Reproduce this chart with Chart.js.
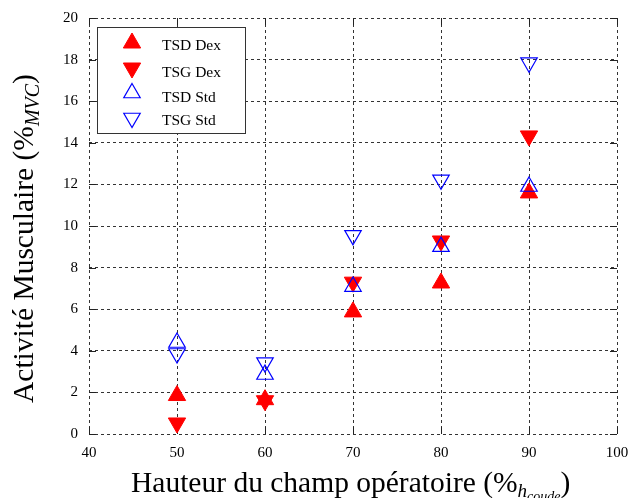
<!DOCTYPE html>
<html>
<head>
<meta charset="utf-8">
<script src="https://cdn.jsdelivr.net/npm/chart.js@4.4.1/dist/chart.umd.min.js"></script>
<style>
  html, body { margin: 0; padding: 0; background: #fff; }
  canvas { display: block; }
</style>
</head>
<body>
<canvas id="chart" width="628" height="498"></canvas>
<script>
// hauteur du champ opératoire (% h coude)
const hauteurs = [50, 60, 70, 80, 90];
// activité musculaire (% MVC)
const tsdDex = [1.85, 1.65, 5.87, 7.26, 11.59];
const tsgDex = [0.53, 1.60, 7.30, 9.28, 14.33];
const tsdStd = [4.40, 2.86, 7.09, 9.01, 11.90];
const tsgStd = [3.87, 3.43, 9.55, 12.22, 17.85];

const xTicks = [40, 50, 60, 70, 80, 90, 100];
const yTicks = [0, 2, 4, 6, 8, 10, 12, 14, 16, 18, 20];

const RED = '#ff0000';
const BLUE = '#0000ff';
const SERIF = '"Liberation Serif", "DejaVu Serif", serif';

const points = vals => hauteurs.map((h, i) => ({ x: h, y: vals[i] }));

const series = [
  { label: 'TSD Dex', data: tsdDex, filled: true,  down: false, order: 4 },
  { label: 'TSG Dex', data: tsgDex, filled: true,  down: true,  order: 3 },
  { label: 'TSD Std', data: tsdStd, filled: false, down: false, order: 2 },
  { label: 'TSG Std', data: tsgStd, filled: false, down: true,  order: 1 }
];

// triangle marker, same geometry as Chart.js 'triangle'
function triangle(ctx, x, y, r, down, filled) {
  let rad = down ? Math.PI : 0;
  ctx.beginPath();
  for (let k = 0; k < 3; k++) {
    const px = x + Math.sin(rad) * r;
    const py = y - Math.cos(rad) * r;
    if (k === 0) ctx.moveTo(px, py); else ctx.lineTo(px, py);
    rad += 2 * Math.PI / 3;
  }
  ctx.closePath();
  if (filled) {
    ctx.fillStyle = RED;
    ctx.fill();
    ctx.strokeStyle = RED;
    ctx.lineWidth = 1;
    ctx.stroke();
  } else {
    ctx.strokeStyle = BLUE;
    ctx.lineWidth = 1.2;
    ctx.stroke();
  }
}

// text made of pieces with subscript offsets, drawn from x0
function richText(ctx, parts, x0, baseY) {
  let x = x0;
  ctx.fillStyle = '#000';
  ctx.textAlign = 'left';
  ctx.textBaseline = 'alphabetic';
  parts.forEach(p => {
    ctx.font = (p.italic ? 'italic ' : '') + p.size + 'px ' + SERIF;
    ctx.fillText(p.t, x, baseY + (p.dy || 0));
    x += ctx.measureText(p.t).width;
  });
}

const decorPlugin = {
  id: 'decor',
  beforeDatasetsDraw(chart) {
    const { ctx, chartArea: a, scales } = chart;
    ctx.save();
    ctx.strokeStyle = '#222';
    ctx.lineWidth = 1;
    ctx.beginPath();
    xTicks.forEach(v => {
      const px = Math.round(scales.x.getPixelForValue(v)) + 0.5;
      ctx.moveTo(px, a.bottom); ctx.lineTo(px, a.bottom - 7);
      ctx.moveTo(px, a.top); ctx.lineTo(px, a.top + 7);
    });
    yTicks.forEach(v => {
      const py = Math.round(scales.y.getPixelForValue(v)) + 0.5;
      ctx.moveTo(a.left, py); ctx.lineTo(a.left + 7, py);
      ctx.moveTo(a.right, py); ctx.lineTo(a.right - 7, py);
    });
    ctx.stroke();
    ctx.restore();
  },
  afterDraw(chart) {
    const { ctx } = chart;
    ctx.save();

    // légende
    ctx.fillStyle = '#fff';
    ctx.fillRect(97.5, 27.5, 148, 106);
    ctx.strokeStyle = '#333';
    ctx.lineWidth = 1;
    ctx.strokeRect(97.5, 27.5, 148, 106);
    const markY = [43, 68, 93, 118];
    const textY = [50, 77, 102, 125];
    series.forEach((s, i) => {
      triangle(ctx, 132, markY[i], s.filled ? 10 : 9.5, s.down, s.filled);
      ctx.fillStyle = '#000';
      ctx.textAlign = 'left';
      ctx.textBaseline = 'alphabetic';
      ctx.font = '15.5px ' + SERIF;
      ctx.fillText(s.label, 162, textY[i]);
    });

    // titre de l'axe x
    richText(ctx, [
      { t: 'Hauteur du champ opératoire (%', size: 29.5 },
      { t: 'h', size: 19, italic: true, dy: 5 },
      { t: 'coude', size: 14, italic: true, dy: 9 },
      { t: ')', size: 29.5 }
    ], 131, 492);

    // titre de l'axe y
    ctx.save();
    ctx.translate(33, 403);
    ctx.rotate(-Math.PI / 2);
    richText(ctx, [
      { t: 'Activité Musculaire (%', size: 29.5 },
      { t: 'MVC', size: 20, italic: true, dy: 6 },
      { t: ')', size: 29.5 }
    ], 0, 0);
    ctx.restore();

    ctx.restore();
  }
};

const gridOpts = { color: '#333', lineWidth: 1, drawTicks: false };
const borderOpts = { display: false, dash: [3, 3] };

new Chart(document.getElementById('chart').getContext('2d'), {
  type: 'scatter',
  data: {
    datasets: series.map(s => ({
      label: s.label,
      data: points(s.data),
      order: s.order,
      pointStyle: 'triangle',
      pointRotation: s.down ? 180 : 0,
      pointRadius: s.filled ? 10 : 9.5,
      pointHoverRadius: s.filled ? 10 : 9.5,
      pointBackgroundColor: s.filled ? RED : 'rgba(0,0,0,0)',
      pointBorderColor: s.filled ? RED : BLUE,
      pointBorderWidth: s.filled ? 1 : 1.2,
      showLine: false
    }))
  },
  options: {
    responsive: false,
    animation: false,
    layout: { padding: { top: 18, right: 11, left: 0, bottom: 0 } },
    plugins: { legend: { display: false }, tooltip: { enabled: false } },
    scales: {
      x: {
        type: 'linear',
        min: 40, max: 100,
        afterBuildTicks: scale => { scale.ticks = xTicks.map(v => ({ value: v })); },
        afterFit: scale => {
          scale.height = 64;
          scale.paddingLeft = 0;
          scale.paddingRight = 0;
        },
        grid: gridOpts,
        border: borderOpts,
        ticks: { color: '#000', padding: 10, maxRotation: 0, font: { family: SERIF, size: 15 } }
      },
      y: {
        type: 'linear',
        min: 0, max: 20,
        afterBuildTicks: scale => { scale.ticks = yTicks.map(v => ({ value: v })); },
        afterFit: scale => {
          scale.width = 89;
          scale.paddingTop = 0;
          scale.paddingBottom = 0;
        },
        grid: gridOpts,
        border: borderOpts,
        ticks: { color: '#000', padding: 11, font: { family: SERIF, size: 15 } }
      }
    }
  },
  plugins: [decorPlugin]
});
</script>
</body>
</html>
